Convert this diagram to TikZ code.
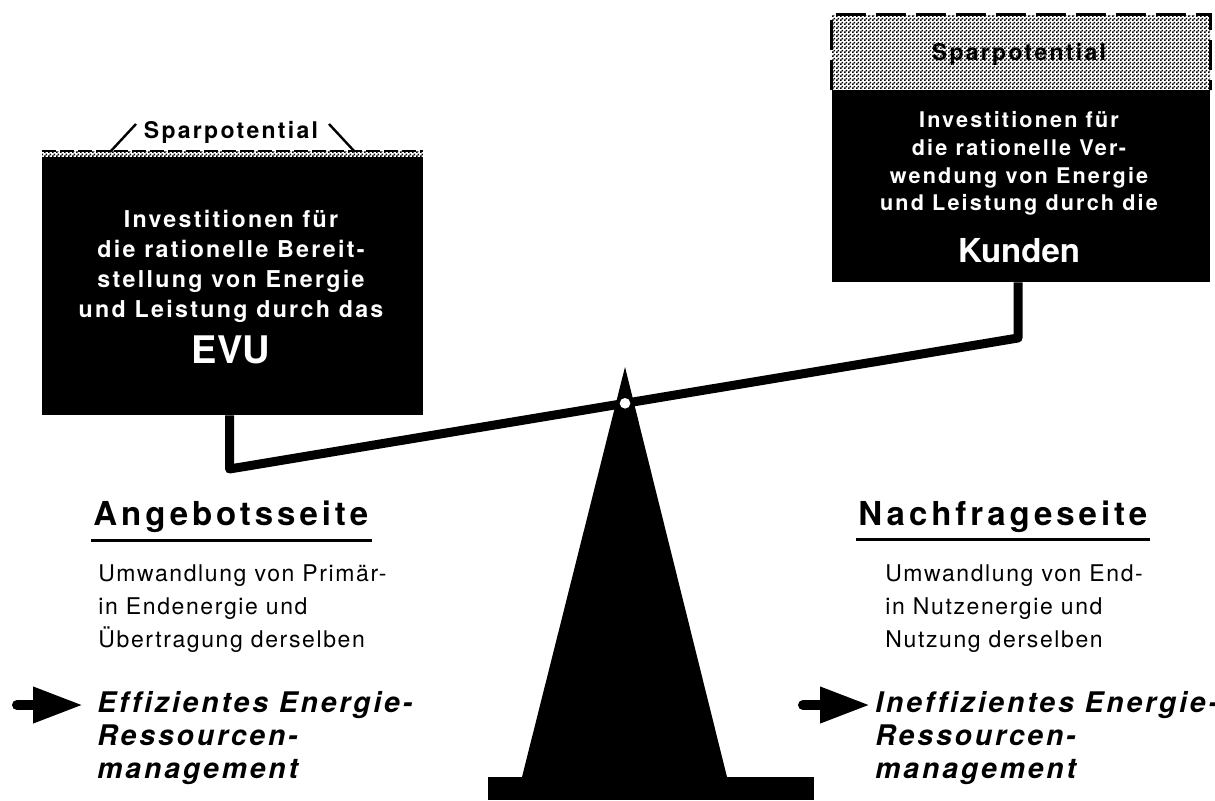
\documentclass[tikz,border=0pt]{standalone}
\usepackage{fontspec}
\setmainfont{TeX Gyre Heros}
\newfontfamily\boxface[LetterSpace=10]{TeX Gyre Heros}
\newfontfamily\headface[LetterSpace=12]{TeX Gyre Heros}
\newfontfamily\bodyface[LetterSpace=7]{TeX Gyre Heros}
\newfontfamily\emface[LetterSpace=10,Ligatures=CommonOff]{TeX Gyre Heros}
\usetikzlibrary{patterns.meta,arrows.meta,calc}

% fine checker halftone for the savings areas
\tikzdeclarepattern{
  name=halftone, type=uncolored,
  bottom left={(0pt,0pt)}, top right={(2pt,2pt)}, tile size={(2pt,2pt)},
  code={\pgfpathrectangle{\pgfpointorigin}{\pgfpoint{1pt}{1pt}}%
        \pgfpathrectangle{\pgfpoint{1pt}{1pt}}{\pgfpoint{1pt}{1pt}}%
        \pgfusepath{fill}}
}

\begin{document}
\begin{tikzpicture}[x=0.5pt,y=-0.5pt,
  plate/.style={fill=black,inner sep=0pt},
  saving/.style={pattern=halftone,inner sep=0pt},
  lboxtxt/.style={text=white,inner sep=0pt,anchor=base,font=\boxface\bfseries\fontsize{11.6}{14}\selectfont},
  rboxtxt/.style={text=white,inner sep=0pt,anchor=base,font=\boxface\bfseries\fontsize{10.8}{13}\selectfont},
  bigtxt/.style={text=white,inner sep=0pt,anchor=base,font=\bfseries\fontsize{#1}{20}\selectfont},
  spartxt/.style={inner sep=0pt,anchor=base,font=\boxface\bfseries\fontsize{11.5}{14}\selectfont},
  headtxt/.style={inner sep=0pt,anchor=base west,font=\headface\bfseries\fontsize{16.5}{20}\selectfont},
  bodytxt/.style={inner sep=0pt,anchor=base west,font=\bodyface\fontsize{11.5}{14}\selectfont},
  emtxt/.style={inner sep=0pt,anchor=base west,font=\emface\bfseries\itshape\fontsize{14.2}{17}\selectfont},
  beam/.style={line width=4.5pt,line join=round},
  rulebar/.style={line width=1.5pt},
  pointer/.style={line width=5pt,line cap=round,-{Triangle[length=25pt,width=17pt]}},
  hint/.style={line width=1.2pt}]
\useasboundingbox (0,0) rectangle (1215,800);

% fulcrum: base plate and wedge
\fill (488,777) rectangle (814,800);
\fill (625,367) -- (727,777) -- (522,777) -- cycle;

% supply side box
\node[plate,minimum width=190.5pt,minimum height=129pt] (boxL) at (232.5,286) {};
\node[saving,minimum width=190.5pt,minimum height=3pt] (spL) at (232.5,154) {};
\draw[line width=1pt,dash pattern=on 7pt off 2pt] (spL.north west) -- (spL.north east);
\node[spartxt] (sparL) at (231,138) {Sparpotential};
\coordinate (sl1) at (110,152); \coordinate (sl2) at (136,124);
\coordinate (sr1) at (329,124); \coordinate (sr2) at (355,152);
\draw[hint] (sl1) -- (sl2);
\draw[hint] (sr1) -- (sr2);
\foreach \t [count=\i] in {Investitionen für,die rationelle Bereit-,stellung von Energie,und Leistung durch das}
  \node[lboxtxt] (tL\i) at (231,197+30*\i) {\t};
\node[bigtxt=19] (evu) at (231,363) {EVU};

% demand side box
\node[plate,minimum width=189pt,minimum height=96pt] (boxR) at (1021,186) {};
\node[saving,minimum width=189pt,minimum height=37.5pt] (spR) at (1021,52.5) {};
\draw[line width=1.5pt,dash pattern=on 15pt off 5pt]
  (spR.south west) -- (spR.north west) -- (spR.north east) -- (spR.south east);
\node[spartxt] (sparR) at (1019,60) {Sparpotential};
\foreach \yy/\t [count=\i] in {127/Investitionen für,155/die rationelle Ver-,183/wendung von Energie,210/und Leistung durch die}
  \node[rboxtxt] (tR\i) at (1019,\yy) {\t};
\node[bigtxt=16.5] (kunden) at (1019,262) {Kunden};

% balance beam with hangers
\coordinate (hL) at (229.5,469);
\coordinate (hR) at (1018,338);
\draw[beam] (hL |- boxL.south) -- (hL) -- (hR) -- (hR |- boxR.south);
\node[circle,fill=white,inner sep=0pt,minimum size=5.3pt] (pivot) at ($(hL)!0.5016!(hR)$) {};

% supply side captions
\node[headtxt] (hdL) at (93,525) {Angebotsseite};
\draw[rulebar] (91,540) -- (372,540);
\foreach \t [count=\i] in {Umwandlung von Primär-,in Endenergie und,Übertragung derselben}
  \node[bodytxt] (bL\i) at (98,548+33*\i) {\t};
\foreach \t [count=\i] in {Effizientes Energie-,Ressourcen-,management}
  \node[emtxt] (eL\i) at (97,679+33*\i) {\t};
\coordinate (aL0) at (17,705); \coordinate (aL1) at (83,705);
\draw[pointer] (aL0) -- (aL1);

% demand side captions
\node[headtxt] (hdR) at (858,525) {Nachfrageseite};
\draw[rulebar] (856,539) -- (1150,539);
\foreach \t [count=\i] in {Umwandlung von End-,in Nutzenergie und,Nutzung derselben}
  \node[bodytxt] (bR\i) at (885,548+33*\i) {\t};
\foreach \t [count=\i] in {Ineffizientes Energie-,Ressourcen-,management}
  \node[emtxt] (eR\i) at (875,679+33*\i) {\t};
\coordinate (aR0) at (803,705); \coordinate (aR1) at (870,705);
\draw[pointer] (aR0) -- (aR1);
\end{tikzpicture}
\end{document}
